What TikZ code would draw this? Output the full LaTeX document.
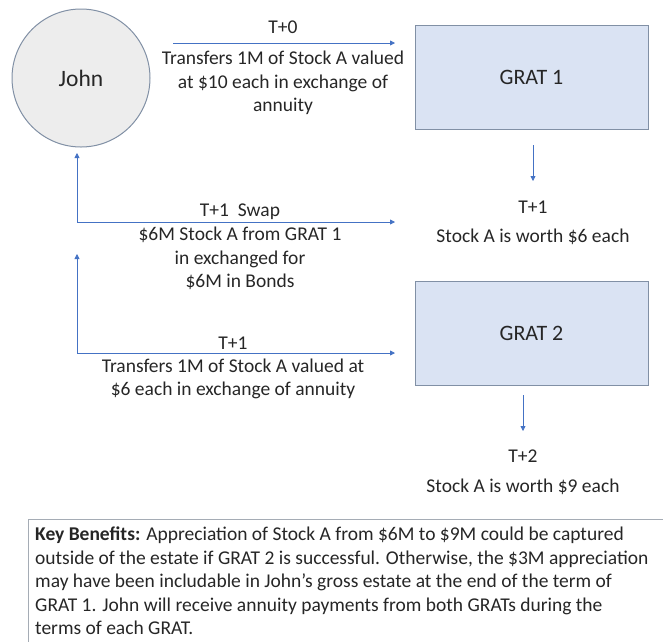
\documentclass[tikz,border=0pt]{standalone}
\usepackage{fontspec}
\setmainfont{Carlito}
\usetikzlibrary{arrows.meta}
\definecolor{arrowblue}{HTML}{4472C4}
\definecolor{boxfill}{HTML}{DAE3F3}
\definecolor{boxline}{HTML}{8190A5}
\definecolor{circfill}{HTML}{EDEDED}
\definecolor{txt}{HTML}{262626}
\definecolor{keyline}{HTML}{A5ACB5}
\tikzset{
  x=1pt, y=-1pt,
  every node/.style={text=txt, font=\fontsize{19.5}{23.5}\selectfont, inner sep=0pt},
  flow/.style={draw=arrowblue, line width=0.8pt, -{Triangle[length=5pt,width=5pt]}},
  gratbox/.style={draw=boxline, fill=boxfill, line width=1pt, minimum width=233pt, minimum height=104pt, font=\fontsize{22}{26}\selectfont},
  lbl/.style={align=center},
}
\begin{document}
\begin{tikzpicture}
\useasboundingbox (0,0) rectangle (663,641);
\clip (0,0) rectangle (663,641);
% John
\node[circle, draw=boxline, fill=circfill, line width=1pt, minimum size=138pt, font=\fontsize{23.5}{28}\selectfont] (john) at (81,78) {John};
% GRAT boxes
\node[gratbox] (g1) at (531.5,77) {GRAT 1};
\node[gratbox] (g2) at (531.5,333.5) {GRAT 2};
% T+0 arrow
\coordinate (a0s) at (173,43);
\coordinate (a0e) at (395,43);
\draw[flow] (a0s) -- (a0e);
\node[lbl] (t0) at (283,27) {T+0};
\node[lbl] (t0txt) at (283,83) {Transfers 1M of Stock A valued\\at \$10 each in exchange of\\annuity};
% GRAT1 down arrow
\coordinate (d1s) at (533,145);
\coordinate (d1e) at (533,181);
\draw[flow] (d1s) -- (d1e);
\node[lbl] (t1a) at (533,207) {T+1};
\node[lbl] (t1b) at (533,237) {Stock A is worth \$6 each};
% Swap arrows
\coordinate (sw1) at (77,222);
\coordinate (sw2) at (395,222);
\coordinate (sw3) at (77,153);
\draw[flow] (sw1) -- (sw2);
\draw[flow] (sw1) -- (sw3);
\node[lbl] (swt) at (240,212) {T+1\ \ Swap};
\node[lbl] (swtxt) at (240,258.5) {\$6M Stock A from GRAT 1\\in exchanged for\\\$6M in Bonds};
% Second transfer
\coordinate (tr1) at (77,353);
\coordinate (tr2) at (395,353);
\coordinate (tr3) at (77,254);
\draw[flow] (tr1) -- (tr2);
\draw[flow] (tr1) -- (tr3);
\node[lbl] (trt) at (233,343) {T+1};
\node[lbl] (trtxt) at (233,379) {Transfers 1M of Stock A valued at\\\$6 each in exchange of annuity};
% GRAT2 down arrow
\coordinate (d2s) at (523,395);
\coordinate (d2e) at (523,431);
\draw[flow] (d2s) -- (d2e);
\node[lbl] (t2a) at (523,456) {T+2};
\node[lbl] (t2b) at (523,487) {Stock A is worth \$9 each};
% Key benefits
\draw[draw=keyline, line width=1pt, fill=white] (28,519) rectangle (700,700);
\node[anchor=north west, align=left] (key) at (35,527) {\textbf{Key Benefits:} Appreciation of Stock A from \$6M to \$9M could be captured\\outside of the estate if GRAT 2 is successful. Otherwise, the \$3M appreciation\\may have been includable in John’s gross estate at the end of the term of\\GRAT 1. John will receive annuity payments from both GRATs during the\\terms of each GRAT.};
\end{tikzpicture}
\end{document}
